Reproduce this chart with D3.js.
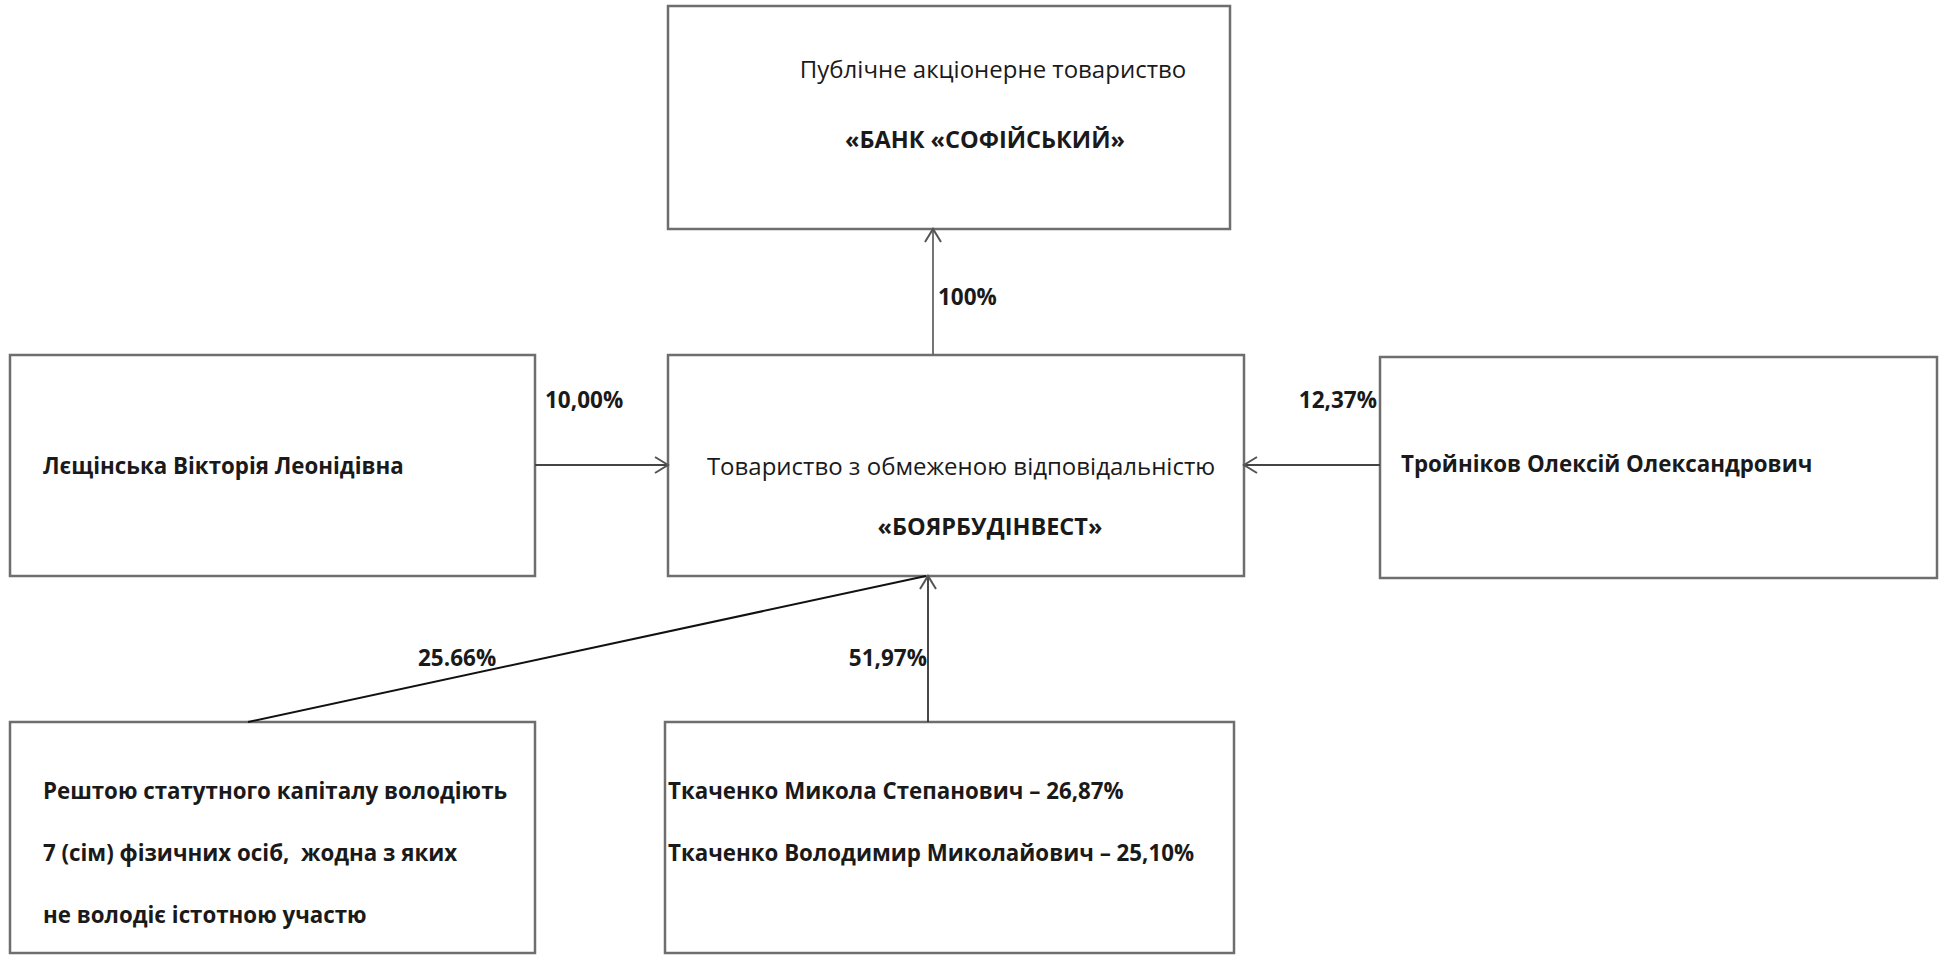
<!DOCTYPE html>
<html>
<head>
<meta charset="utf-8">
<script src="https://cdn.jsdelivr.net/npm/d3@7/dist/d3.min.js"></script>
<style>
  body { margin: 0; background: #fff; }
  text { font-family: "Open Sans", "Noto Sans", sans-serif; fill: #1a1a1a; white-space: pre; }
</style>
</head>
<body>
<svg id="sg"></svg>
<script>
// entities of the ownership chart
const boxIds = ["bank", "boyar", "leshch", "troin", "rest", "tkach"];
const boxLines = {
  bank: ["Публічне акціонерне товариство", "«БАНК «СОФІЙСЬКИЙ»"],
  boyar: ["Товариство з обмеженою відповідальністю", "«БОЯРБУДІНВЕСТ»"],
  leshch: ["Лєщінська Вікторія Леонідівна"],
  troin: ["Тройніков Олексій Олександрович"],
  rest: ["Рештою статутного капіталу володіють", "7 (сім) фізичних осіб,  жодна з яких", "не володіє істотною участю"],
  tkach: ["Ткаченко Микола Степанович – 26,87%", "Ткаченко Володимир Миколайович – 25,10%"]
};
const boxBold = {
  bank: [false, true],
  boyar: [false, true],
  leshch: [true],
  troin: [true],
  rest: [true, true, true],
  tkach: [true, true]
};
// ownership links: owner -> owned, share
const linkFrom = ["boyar", "leshch", "troin", "rest", "tkach"];
const linkTo = ["bank", "boyar", "boyar", "boyar", "boyar"];
const linkShare = ["100%", "10,00%", "12,37%", "25.66%", "51,97%"];

// ---- layout (pixels) ----
let svgWidth = 1941, svgHeight = 955;
const box = {
  bank:   { x: 668,  y: 6,   w: 562, h: 223, tx: 993, tx2: 985, anchor: "middle", ty: [68, 139] },
  boyar:  { x: 668,  y: 355, w: 576, h: 221, tx: 961, tx2: 990, anchor: "middle", ty: [465, 526] },
  leshch: { x: 10,   y: 355, w: 525, h: 221, tx: 43,  anchor: "start",  ty: [465] },
  troin:  { x: 1380, y: 357, w: 557, h: 221, tx: 1401, anchor: "start", ty: [463] },
  rest:   { x: 10,   y: 722, w: 525, h: 231, tx: 43,  anchor: "start",  ty: [790, 852, 914] },
  tkach:  { x: 665,  y: 722, w: 569, h: 231, tx: 668, anchor: "start",  ty: [790, 852] }
};
// link geometry derived from box edges
function linkPoints(i) {
  let s = box[linkFrom[i]], t = box[linkTo[i]];
  switch (linkShare[i]) {
    case "100%":   return [[933, s.y], [933, t.y + t.h]];
    case "10,00%": return [[s.x + s.w, 465], [t.x, 465]];
    case "12,37%": return [[s.x, 465], [t.x + t.w, 465]];
    case "25.66%": return [[248, s.y], [926, t.y + t.h]];
    default:       return [[928, s.y], [928, t.y + t.h]];
  }
}
const labelPos = {
  "100%":   { x: 938, y: 296, anchor: "start" },
  "10,00%": { x: 545, y: 399, anchor: "start" },
  "12,37%": { x: 1377, y: 399, anchor: "end" },
  "25.66%": { x: 418, y: 657, anchor: "start" },
  "51,97%": { x: 927, y: 657, anchor: "end" }
};
const linkStroke = { "100%": "#666", "10,00%": "#444", "12,37%": "#444", "25.66%": "#111", "51,97%": "#333" };

let svg = d3.select("#sg").attr("width", svgWidth).attr("height", svgHeight);

svg.append("defs").append("marker")
  .attr("id", "chev")
  .attr("viewBox", "-14 -9 16 18")
  .attr("refX", 0).attr("refY", 0)
  .attr("markerWidth", 16).attr("markerHeight", 18)
  .attr("markerUnits", "userSpaceOnUse")
  .attr("orient", "auto")
  .append("path")
  .attr("d", "M-13,-8 L0,0 L-13,8")
  .attr("fill", "none")
  .attr("stroke", "#555")
  .attr("stroke-width", 2);

// boxes
let g = svg.append("g");
g.selectAll("rect")
  .data(boxIds)
  .enter()
  .append("rect")
  .attr("x", d => box[d].x)
  .attr("y", d => box[d].y)
  .attr("width", d => box[d].w)
  .attr("height", d => box[d].h)
  .attr("fill", "none")
  .attr("stroke", "#6e6e6e")
  .attr("stroke-width", 2.5);

// links
let line = d3.line();
g.selectAll("path.link")
  .data(d3.range(linkShare.length))
  .enter()
  .append("path")
  .attr("class", "link")
  .attr("d", i => line(linkPoints(i)))
  .attr("fill", "none")
  .attr("stroke", i => linkStroke[linkShare[i]])
  .attr("stroke-width", i => linkShare[i] === "25.66%" ? 2 : 1.8)
  .attr("marker-end", i => linkShare[i] === "25.66%" ? null : "url(#chev)");

g.selectAll("text.share")
  .data(linkShare)
  .enter()
  .append("text")
  .attr("class", "share")
  .attr("x", d => labelPos[d].x)
  .attr("y", d => labelPos[d].y)
  .attr("text-anchor", d => labelPos[d].anchor)
  .attr("dominant-baseline", "central")
  .attr("font-size", 22.5)
  .attr("font-weight", 700)
  .text(d => d);

// box texts
boxIds.forEach(function(id) {
  let b = box[id];
  g.selectAll("text." + id)
    .data(boxLines[id])
    .enter()
    .append("text")
    .attr("class", id)
    .attr("x", (d, i) => (i === 1 && b.tx2) ? b.tx2 : b.tx)
    .attr("y", (d, i) => b.ty[i])
    .attr("text-anchor", b.anchor)
    .attr("dominant-baseline", "central")
    .attr("font-size", (d, i) => !boxBold[id][i] ? 24 : (b.tx2 ? 23.5 : 22.3))
    .attr("font-weight", (d, i) => boxBold[id][i] ? 700 : 400)
    .text(d => d);
});
</script>
</body>
</html>
